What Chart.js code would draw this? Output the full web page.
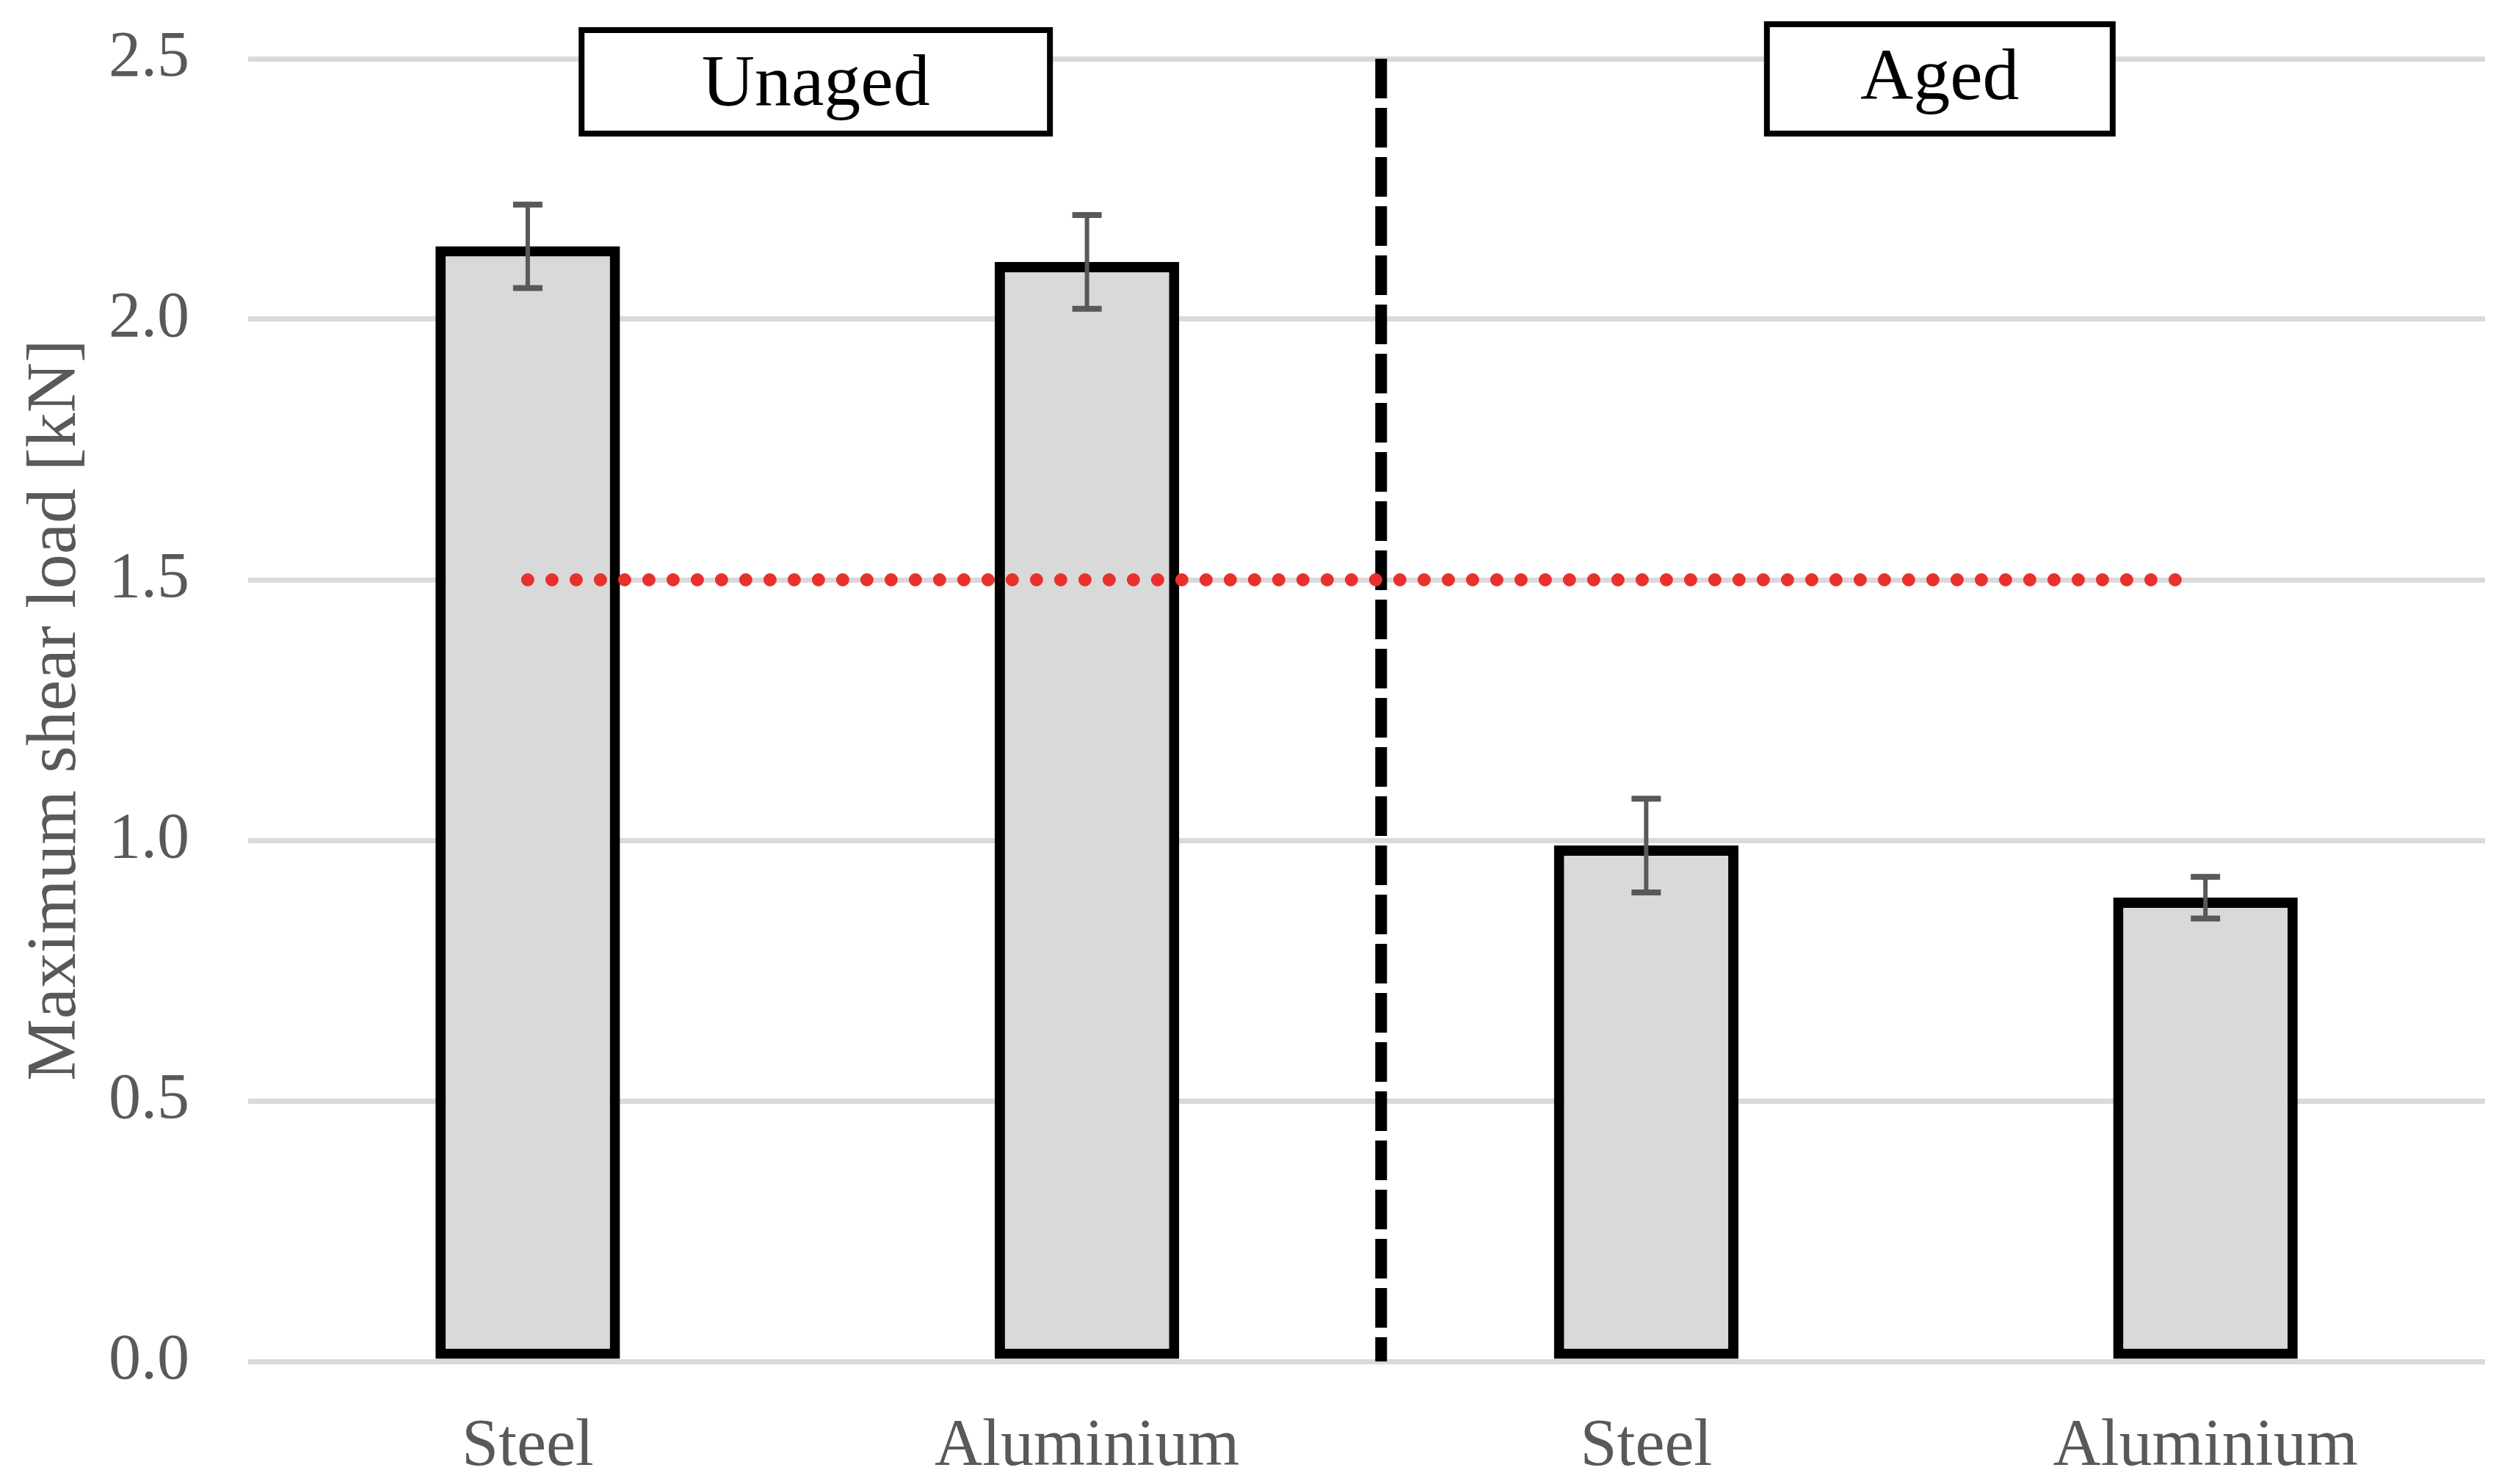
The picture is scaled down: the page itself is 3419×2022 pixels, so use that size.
<!DOCTYPE html>
<html lang="en">
<head>
  <meta charset="UTF-8">
  <title>Maximum shear load</title>
  <script src="https://cdn.jsdelivr.net/npm/chart.js"></script>
  <style>
    html, body { margin: 0; padding: 0; background: #fff; }
    .chart-box { width: 3419px; height: 2022px; }
  </style>
</head>
<body>
  <div class="chart-box">
    <canvas id="shearChart"></canvas>
  </div>

  <script>
    // datos
    const categories = ['Steel', 'Aluminium', 'Steel', 'Aluminium'];
    const meanLoad = [2.14, 2.11, 0.99, 0.89];
    const errLoad = [0.08, 0.09, 0.09, 0.04];
    const yTicks = [0, 0.5, 1.0, 1.5, 2.0, 2.5];
    const groupLabels = ['Unaged', 'Aged'];
    const requiredLoad = 1.5;

    const FONT = '"Liberation Serif", "Times New Roman", serif';

    // barras de error
    const errorBars = {
      id: 'errorBars',
      afterDatasetsDraw(chart) {
        const meta = chart.getDatasetMeta(0);
        const y = chart.scales.y;
        const ctx = chart.ctx;
        ctx.save();
        ctx.strokeStyle = '#595959';
        meta.data.forEach((bar, i) => {
          const top = y.getPixelForValue(meanLoad[i] + errLoad[i]);
          const bot = y.getPixelForValue(meanLoad[i] - errLoad[i]);
          ctx.lineWidth = 6;
          ctx.beginPath();
          ctx.moveTo(bar.x, top);
          ctx.lineTo(bar.x, bot);
          ctx.stroke();
          ctx.lineWidth = 8;
          ctx.beginPath();
          ctx.moveTo(bar.x - 20, top);
          ctx.lineTo(bar.x + 20, top);
          ctx.moveTo(bar.x - 20, bot);
          ctx.lineTo(bar.x + 20, bot);
          ctx.stroke();
        });
        ctx.restore();
      }
    };

    // cuadros "Unaged" / "Aged"
    const groupBoxes = {
      id: 'groupBoxes',
      afterDraw(chart) {
        const x2 = chart.scales.x2;
        const ctx = chart.ctx;
        const boxes = [
          { cx: 0.515, w: 646, top: 37, bottom: 186, base: 143 },
          { cx: 2.525, w: 479, top: 29, bottom: 186, base: 135 }
        ];
        ctx.save();
        boxes.forEach((b, i) => {
          const cx = x2.getPixelForValue(b.cx);
          ctx.fillStyle = '#fff';
          ctx.fillRect(cx - b.w / 2, b.top, b.w, b.bottom - b.top);
          ctx.strokeStyle = '#000';
          ctx.lineWidth = 8;
          ctx.strokeRect(cx - b.w / 2 + 4, b.top + 4, b.w - 8, b.bottom - b.top - 8);
          ctx.fillStyle = '#000';
          ctx.font = '100px ' + FONT;
          ctx.textAlign = 'center';
          ctx.textBaseline = 'alphabetic';
          ctx.fillText(groupLabels[i], cx, b.base);
        });
        ctx.restore();
      }
    };

    const ctx = document.getElementById('shearChart').getContext('2d');
    new Chart(ctx, {
      type: 'bar',
      data: {
        labels: categories,
        datasets: [
          {
            type: 'bar',
            data: meanLoad,
            backgroundColor: '#d9d9d9',
            borderColor: '#000',
            borderWidth: 14,
            borderSkipped: false,
            grouped: false,
            barPercentage: 0.33,
            categoryPercentage: 1,
            order: 3
          },
          {
            type: 'line',
            xAxisID: 'x2',
            data: [{ x: 0, y: requiredLoad }, { x: 2.98, y: requiredLoad }],
            borderColor: '#e8312c',
            borderWidth: 18,
            borderDash: [0, 33],
            borderCapStyle: 'round',
            pointRadius: 0,
            order: 1
          },
          {
            type: 'line',
            xAxisID: 'x2',
            data: [{ x: 1.526, y: 2.5 }, { x: 1.526, y: 0 }],
            borderColor: '#000',
            borderWidth: 16,
            borderDash: [54, 13],
            borderCapStyle: 'butt',
            pointRadius: 0,
            order: 2
          }
        ]
      },
      options: {
        responsive: true,
        maintainAspectRatio: false,
        devicePixelRatio: 1,
        animation: false,
        layout: { padding: { top: 80, right: 34, left: 0, bottom: 0 } },
        plugins: {
          legend: { display: false },
          tooltip: { enabled: false }
        },
        scales: {
          x: {
            grid: { display: false },
            border: { display: false },
            ticks: {
              color: '#595959',
              font: { family: FONT, size: 90 },
              padding: 55
            },
            afterFit(scale) { scale.height = 167; }
          },
          x2: {
            type: 'linear',
            display: false,
            offset: false,
            min: -0.5,
            max: 3.5
          },
          y: {
            min: 0,
            max: 2.5,
            afterBuildTicks(scale) { scale.ticks = yTicks.map(v => ({ value: v })); },
            grid: { color: '#d9d9d9', lineWidth: 7, drawTicks: false },
            border: { display: false },
            ticks: {
              color: '#595959',
              font: { family: FONT, size: 88 },
              padding: 80,
              callback: v => v.toFixed(1)
            },
            title: {
              display: true,
              text: 'Maximum shear load [kN]',
              color: '#595959',
              font: { family: FONT, size: 95 },
              padding: { top: 20 }
            },
            afterFit(scale) {
              scale.width = 338;
              scale.paddingTop = 0;
              scale.paddingBottom = 0;
            }
          }
        }
      },
      plugins: [errorBars, groupBoxes]
    });
  </script>
</body>
</html>
